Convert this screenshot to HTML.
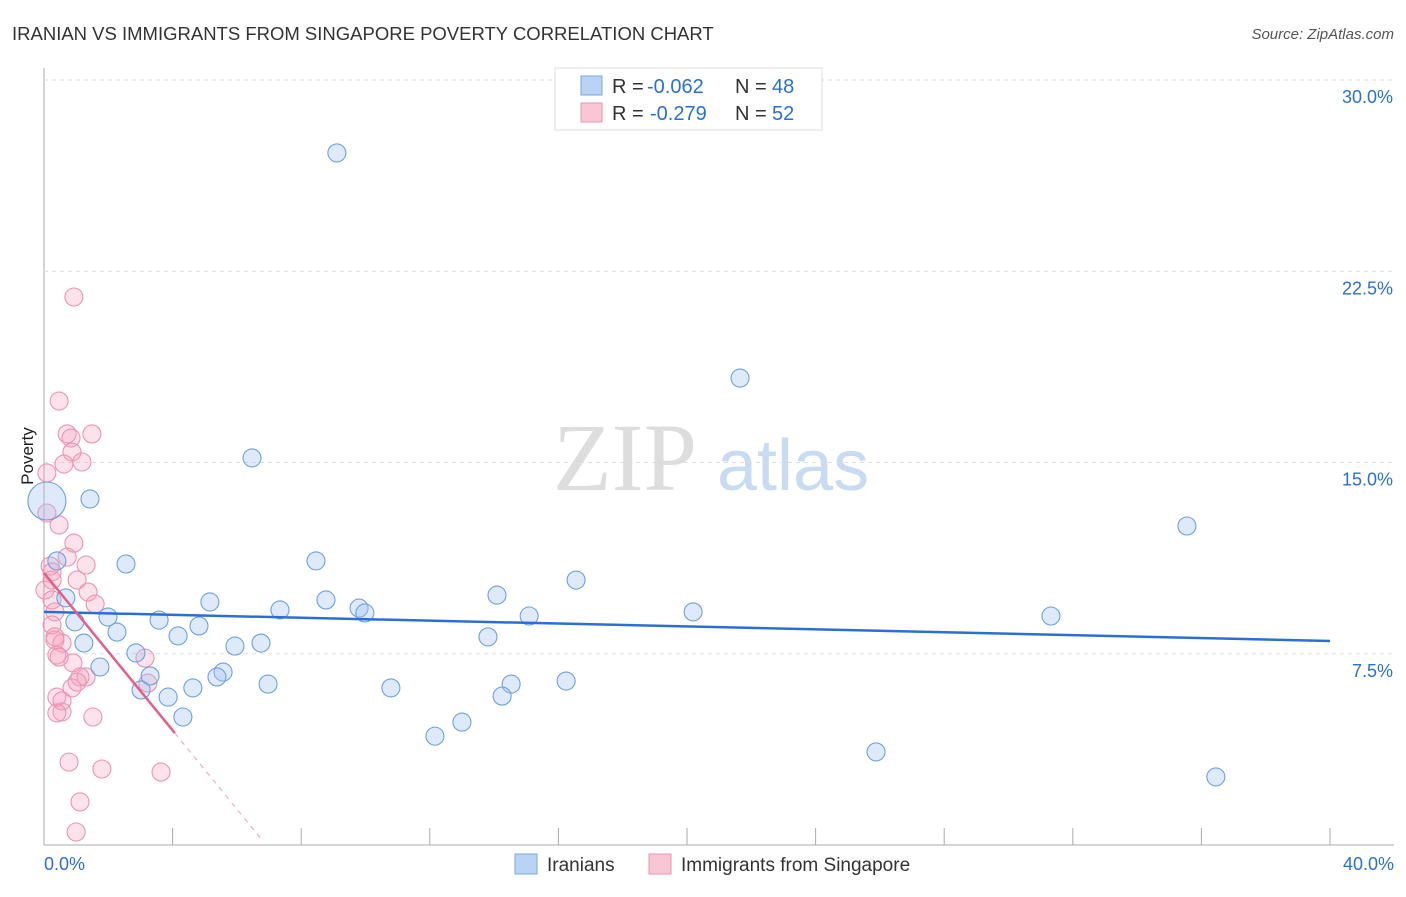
<!DOCTYPE html>
<html><head><meta charset="utf-8"><style>
body{margin:0;background:#fff;font-family:"Liberation Sans",sans-serif}
</style></head><body>
<svg width="1406" height="892" viewBox="0 0 1406 892" id="svg" font-family="Liberation Sans, sans-serif">
<text x="12" y="40" font-size="18.5" fill="#333">IRANIAN VS IMMIGRANTS FROM SINGAPORE POVERTY CORRELATION CHART</text>
<text x="1394" y="39" font-size="15" fill="#555" font-style="italic" text-anchor="end">Source: ZipAtlas.com</text>
<text x="33" y="456" font-size="17" fill="#222" text-anchor="middle" transform="rotate(-90 33 456)">Poverty</text>
<g><text x="553" y="490" font-size="96" font-family="Liberation Serif, serif" fill="#ddd">ZIP</text><text x="717" y="490" font-size="72" fill="#c8dbf3">atlas</text></g>
<g id="grid"></g><g id="marks"></g>
<g>
<rect x="555" y="68" width="267" height="62" fill="#fff" stroke="#ddd"/>
<rect x="581" y="76" width="21" height="19" fill="#b9d3f5" stroke="#7aa7e0"/>
<text x="612" y="93" font-size="20" fill="#333">R =</text>
<text x="647" y="93" font-size="20" fill="#2a6fd6">-0.062</text>
<text x="735" y="93" font-size="20" fill="#333">N =</text>
<text x="772" y="93" font-size="20" fill="#2a6fd6">48</text>
<rect x="581" y="103" width="21" height="19" fill="#f9c6d5" stroke="#ec93b0"/>
<text x="612" y="120" font-size="20" fill="#333">R =</text>
<text x="650" y="120" font-size="20" fill="#2a6fd6">-0.279</text>
<text x="735" y="120" font-size="20" fill="#333">N =</text>
<text x="772" y="120" font-size="20" fill="#2a6fd6">52</text>
</g>
<g>
<rect x="515" y="854" width="22" height="20" fill="#b9d3f5" stroke="#7aa7e0"/>
<text x="547" y="871" font-size="19" fill="#333">Iranians</text>
<rect x="649" y="854" width="22" height="20" fill="#f9c6d5" stroke="#ec93b0"/>
<text x="681" y="871" font-size="19" fill="#333">Immigrants from Singapore</text>
</g>
</svg>
<script>
const yTicks=[7.5,15,22.5,30];
const yTickLabels=["7.5%","15.0%","22.5%","30.0%"];
const xTickLabels=["0.0%","40.0%"];
const blueX=[9.11,6.47,21.65,35.55,1.43,0.40,2.55,8.46,16.55,14.09,8.77,5.16,9.80,9.98,7.34,15.09,20.19,31.32,0.68,1.99,0.96,3.58,4.82,4.17,2.27,1.24,5.94,6.75,13.81,2.86,1.74,5.57,5.38,3.30,6.97,4.63,3.02,3.86,10.79,14.53,16.24,14.25,4.32,13.00,12.16,25.88,36.45,0.09];
const blueY=[27.14,15.18,18.31,12.51,13.57,11.14,11.02,11.14,10.39,9.80,9.61,9.53,9.29,9.10,9.22,8.98,9.14,8.98,9.69,8.94,8.75,8.82,8.59,8.20,8.35,7.92,7.80,7.92,8.16,7.53,6.98,6.78,6.59,6.63,6.31,6.16,6.08,5.80,6.16,6.31,6.43,5.84,5.02,4.82,4.27,3.65,2.67,13.49];
const pinkX=[0.93,0.47,0.72,1.49,0.84,0.87,0.62,1.18,0.09,0.09,0.47,0.93,0.72,1.31,0.19,0.25,0.25,1.03,0.03,1.37,0.25,1.59,0.34,0.25,0.34,0.56,0.34,0.40,0.47,3.14,0.90,1.31,1.12,3.23,0.87,1.03,0.40,0.56,0.56,1.52,0.40,0.78,1.80,3.64,1.12,1.00];
const pinkY=[21.49,17.41,16.12,16.12,15.96,15.41,14.94,15.02,14.59,13.02,12.55,11.84,11.29,10.98,10.94,10.71,10.39,10.39,10.00,9.92,9.61,9.45,9.14,8.63,8.16,7.92,8.04,7.45,7.37,7.33,7.14,6.59,6.59,6.35,6.16,6.39,5.80,5.65,5.22,5.02,5.18,3.25,2.98,2.86,1.69,0.51];
const blueTrend=[[0,9.14],[40,8.0]];
const pinkTrend=[[0,10.67],[4.07,4.39]];
const pinkTrendDash=[[4.07,4.39],[6.78,0.2]];
const X=v=>44+v*32.15, Y=v=>845-v*25.5;
const NS="http://www.w3.org/2000/svg";
function mk(t,a,p){const e=document.createElementNS(NS,t);for(const k in a)e.setAttribute(k,a[k]);p.appendChild(e);return e;}
const grid=document.getElementById('grid'),marks=document.getElementById('marks');
let ax=mk('line',{x1:44,y1:68,x2:44,y2:845,stroke:'#aaa'},grid);


let bx=mk('line',{x1:44,y1:845,x2:1394,y2:845,stroke:'#aaa'},grid);


for(let i=1;i<=10;i++){let t=mk('line',{x1:X(i*4),y1:828,x2:X(i*4),y2:845,stroke:'#aaa'},grid);

}
yTicks.forEach((v,i)=>{let g=mk('line',{x1:44,y1:Y(v),x2:1394,y2:Y(v),stroke:'#ddd','stroke-dasharray':'4,4'},grid);


let t=mk('text',{x:1393,y:Y(v)+23,'font-size':18,fill:'#2a6fd6','text-anchor':'end'},grid);t.textContent=yTickLabels[i];

});
[[0,'start',44],[1,'end',1394]].forEach(([i,a,x])=>{let t=mk('text',{x:x,y:870,'font-size':18,fill:'#2a6fd6','text-anchor':a},grid);t.textContent=xTickLabels[i];

});
pinkX.forEach((v,i)=>{let c=mk('circle',{cx:X(v),cy:Y(pinkY[i]),r:9,fill:'rgba(244,160,188,0.3)',stroke:'#ec93b0','stroke-width':1.1},marks);

});
blueX.forEach((v,i)=>{let big=i==blueX.length-1;let c=mk('circle',{cx:X(v),cy:Y(blueY[i]),r:big?19:9,fill:'rgba(160,196,240,0.35)',stroke:'#6f9fe0','stroke-width':1.1},marks);

});
let l1=mk('line',{x1:X(blueTrend[0][0]),y1:Y(blueTrend[0][1]),x2:X(blueTrend[1][0]),y2:Y(blueTrend[1][1]),stroke:'#2a6fd6','stroke-width':2.5},marks);


let l2=mk('line',{x1:X(pinkTrend[0][0]),y1:Y(pinkTrend[0][1]),x2:X(pinkTrend[1][0]),y2:Y(pinkTrend[1][1]),stroke:'#e0608a','stroke-width':2.5},marks);


let l3=mk('line',{x1:X(pinkTrendDash[0][0]),y1:Y(pinkTrendDash[0][1]),x2:X(pinkTrendDash[1][0]),y2:Y(pinkTrendDash[1][1]),stroke:'#e8a0b8','stroke-width':1,'stroke-dasharray':'5,5'},marks);


</script>
</body></html>
